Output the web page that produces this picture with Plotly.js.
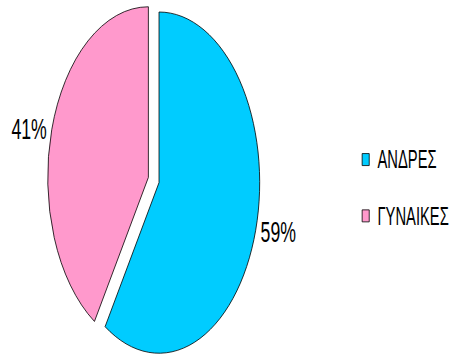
<!DOCTYPE html>
<html>
<head>
<meta charset="utf-8">
<script src="https://cdn.plot.ly/plotly-3.0.1.min.js"></script>
<style>
  html, body { margin: 0; padding: 0; background: #fff; overflow: hidden; }
  #wrap { width: 460px; height: 360px; overflow: hidden; }
  #chart { width: 780px; height: 360px; transform: scaleX(0.59); transform-origin: 0 0; }
</style>
</head>
<body>
<div id="wrap"><div id="chart"></div></div>
<script>
const categories = ["ΑΝΔΡΕΣ", "ΓΥΝΑΙΚΕΣ"];
const values = [59, 41];
const colors = ["#00CCFF", "#FF99CC"];

const legendLabels = categories.map(c => '<span style="font-size:25px;baseline-shift:7px">' + c + '</span>');

const data = [{
  type: "pie",
  labels: legendLabels,
  values: values,
  sort: false,
  direction: "clockwise",
  rotation: 0,
  pull: [0.055, 0.055],
  marker: { colors: colors, line: { color: "#000", width: 1 } },
  textinfo: "percent",
  texttemplate: "%{percent:.0%}",
  textposition: "outside",
  outsidetextfont: { family: "Liberation Sans, Arial, sans-serif", size: 30, color: "#000" },
  domain: { x: [0, 0.668], y: [0, 1] },
  hoverinfo: "label+percent"
}];

const layout = {
  width: 780,
  height: 360,
  margin: { l: 0, r: 0, t: 0, b: 0 },
  paper_bgcolor: "#fff",
  showlegend: true,
  legend: {
    x: 0.769, xanchor: "left",
    y: 0.478, yanchor: "middle",
    font: { family: "Liberation Sans, Arial, sans-serif", size: 41, color: "#000" },
    bgcolor: "rgba(0,0,0,0)"
  }
};

Plotly.newPlot("chart", data, layout, { staticPlot: true, displayModeBar: false });
</script>
</body>
</html>
